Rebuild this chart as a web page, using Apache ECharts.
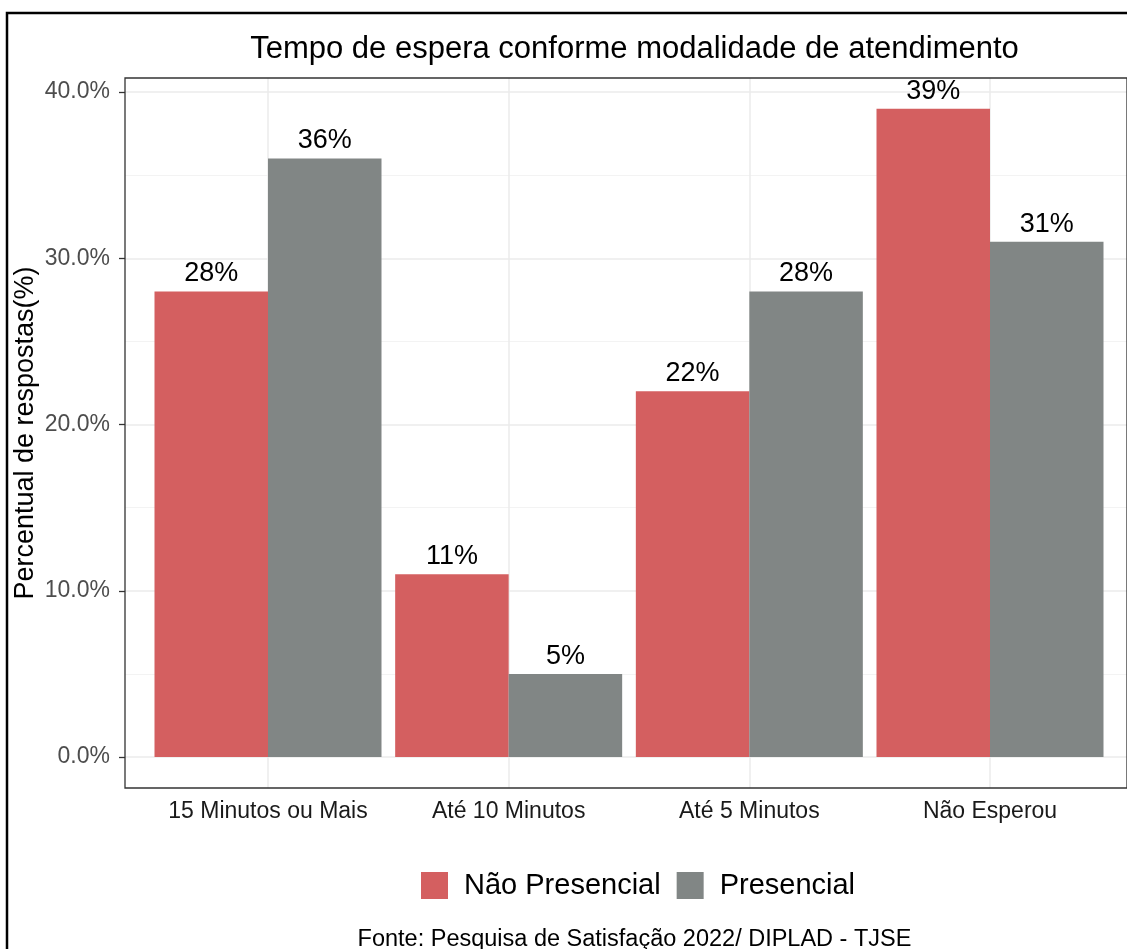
<!DOCTYPE html>
<html>
<head>
<meta charset="utf-8">
<script src="https://cdn.jsdelivr.net/npm/echarts@6/dist/echarts.min.js"></script>
<style>
  html, body { margin: 0; padding: 0; background: #fff; }
  #chart { width: 1127px; height: 949px; }
</style>
</head>
<body>
<div id="chart"></div>
<script>
// Wait times by service mode (percent of responses)
const categories = ['15 Minutos ou Mais', 'Até 10 Minutos', 'Até 5 Minutos', 'Não Esperou'];
const seriesNames = ['Não Presencial', 'Presencial'];
const naoPresencial = [28, 11, 22, 39];
const presencial = [36, 5, 28, 31];
const yTicks = [0, 10, 20, 30, 40];

const RED = '#D45F60';
const GRAY = '#818685';
const GRID_LINE = '#EBEBEB';
const FONT = 'Liberation Sans, Arial, sans-serif';

// Panel box (outer plot area) and the inner data band (0%..40%)
const panel = { left: 125, top: 78, width: 1009, height: 710 };
const dataBand = { top: 92, height: 665 };
// Category centres run from the first to the last band position
const catSpan = { left: 268, width: 722 };

const chart = echarts.init(document.getElementById('chart'), null, { renderer: 'canvas' });

const barLabel = {
  show: true,
  position: 'top',
  distance: 4,
  color: '#000',
  fontSize: 27,
  fontFamily: FONT,
  formatter: p => p.value + '%'
};

chart.setOption({
  animation: false,
  backgroundColor: '#fff',
  textStyle: { fontFamily: FONT },
  title: [
    {
      text: 'Tempo de espera conforme modalidade de atendimento',
      left: panel.left + panel.width / 2,
      textAlign: 'center',
      top: 29,
      textStyle: { fontSize: 31, fontWeight: 'normal', color: '#000', fontFamily: FONT }
    },
    {
      text: 'Fonte: Pesquisa de Satisfação 2022/ DIPLAD - TJSE',
      left: panel.left + panel.width / 2,
      textAlign: 'center',
      top: 923,
      textStyle: { fontSize: 23.5, fontWeight: 'normal', color: '#000', fontFamily: FONT }
    }
  ],
  legend: {
    data: seriesNames,
    left: 416,
    top: 866,
    itemWidth: 27,
    itemHeight: 27,
    itemGap: 16,
    icon: 'rect',
    textStyle: { fontSize: 29, color: '#000', fontFamily: FONT, padding: [0, 0, 0, 11] }
  },
  graphic: [
    {
      type: 'rect',
      shape: { x: 7, y: 13, width: 1300, height: 1100 },
      style: { fill: 'none', stroke: '#000', lineWidth: 2.5 },
      silent: true,
      z: 100
    }
  ],
  grid: [
    // 0: horizontal grid lines and y labels over the full panel width
    { left: panel.left, top: dataBand.top, width: panel.width, height: dataBand.height, containLabel: false },
    // 1: panel border and y axis title
    { left: panel.left, top: panel.top, width: panel.width, height: panel.height, show: true,
      borderColor: '#333', borderWidth: 1.3, backgroundColor: 'transparent', z: 5 },
    // 2: vertical grid lines and category labels
    { left: catSpan.left, top: panel.top, width: catSpan.width, height: panel.height },
    // 3: bars
    { left: catSpan.left, top: dataBand.top, width: catSpan.width, height: dataBand.height }
  ],
  xAxis: [
    { gridIndex: 0, type: 'category', data: categories, show: false },
    { gridIndex: 1, type: 'value', show: false },
    {
      gridIndex: 2, type: 'category', data: categories, boundaryGap: false,
      axisLine: { show: false }, axisTick: { show: false },
      axisLabel: { interval: 0, hideOverlap: false, color: '#1a1a1a', fontSize: 23, margin: 12, fontFamily: FONT },
      splitLine: { show: true, interval: 0, lineStyle: { color: GRID_LINE, width: 1.5 } }
    },
    { gridIndex: 3, type: 'category', data: categories, boundaryGap: false, show: false }
  ],
  yAxis: [
    {
      gridIndex: 0, type: 'value', min: yTicks[0], max: yTicks[yTicks.length - 1], interval: 10,
      axisLine: { show: false },
      axisTick: { show: true, length: 6, lineStyle: { color: '#333', width: 1.3 } },
      axisLabel: { color: '#4d4d4d', fontSize: 23, margin: 15, fontFamily: FONT,
        formatter: v => v.toFixed(1) + '%' },
      splitLine: { show: true, lineStyle: { color: GRID_LINE, width: 1.5 } },
      minorTick: { show: false, splitNumber: 2 },
      minorSplitLine: { show: true, lineStyle: { color: '#F3F3F3', width: 1 } }
    },
    {
      gridIndex: 1, type: 'value',
      name: 'Percentual de respostas(%)',
      nameLocation: 'middle',
      nameGap: 86,
      nameTextStyle: { fontSize: 27, color: '#000', fontFamily: FONT },
      axisLine: { show: false }, axisTick: { show: false }, axisLabel: { show: false },
      splitLine: { show: false }
    },
    { gridIndex: 2, type: 'value', show: false },
    { gridIndex: 3, type: 'value', min: yTicks[0], max: yTicks[yTicks.length - 1], show: false }
  ],
  series: [
    {
      name: seriesNames[0], type: 'bar', xAxisIndex: 3, yAxisIndex: 3,
      data: naoPresencial, barWidth: 113.5, barGap: '0%', clip: false,
      itemStyle: { color: RED }, label: barLabel, z: 3
    },
    {
      name: seriesNames[1], type: 'bar', xAxisIndex: 3, yAxisIndex: 3,
      data: presencial, barWidth: 113.5, barGap: '0%', clip: false,
      itemStyle: { color: GRAY }, label: barLabel, z: 3
    }
  ]
});
</script>
</body>
</html>
